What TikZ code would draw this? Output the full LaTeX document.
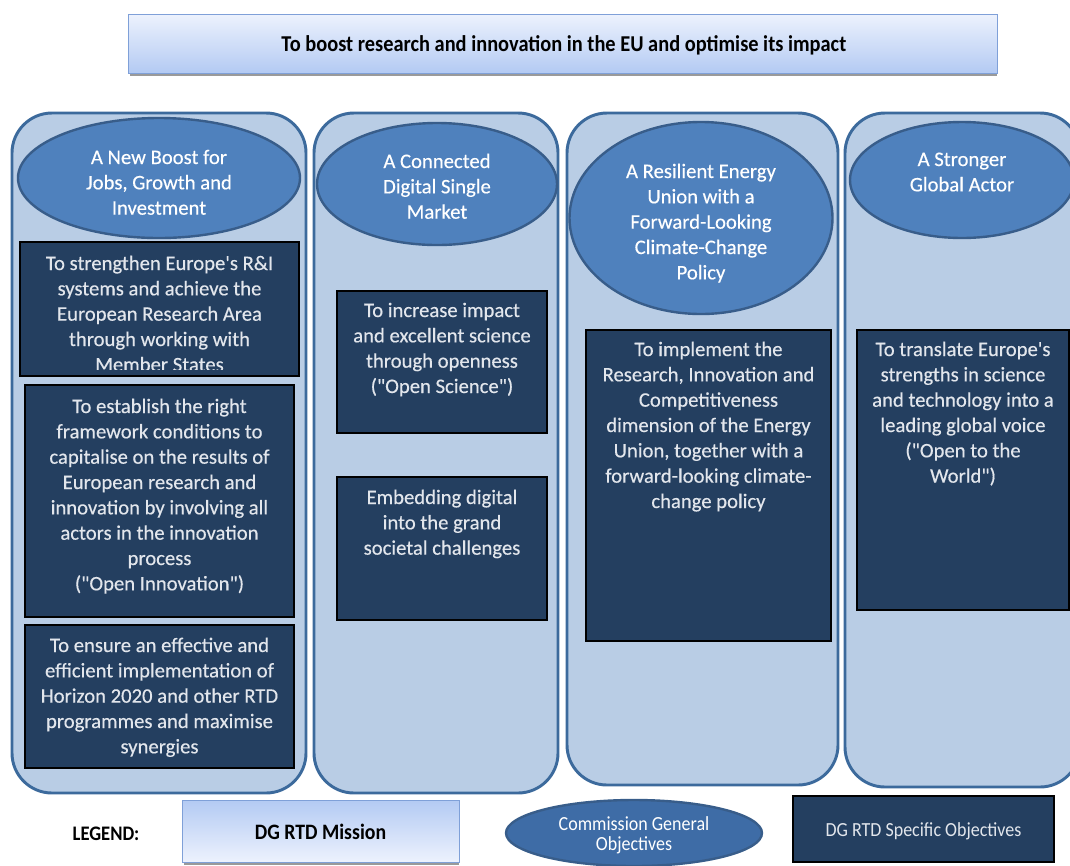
\documentclass[tikz,border=0pt]{standalone}
\usepackage{fontspec}
\defaultfontfeatures[\rmfamily]{}
\setmainfont{Carlito}
\newfontfamily\bodyfont[FakeBold=0.35]{Carlito}
\newfontfamily\legfont[FakeStretch=0.9]{Carlito}
\usetikzlibrary{shapes.geometric,fit}
\definecolor{colfill}{HTML}{B9CDE5}
\definecolor{coldraw}{HTML}{3C6A9C}
\definecolor{ellfill}{HTML}{4F81BD}
\definecolor{elldraw}{HTML}{385D8A}
\definecolor{legellfill}{HTML}{3E6CA6}
\definecolor{objfill}{HTML}{243F60}
\definecolor{objtext}{HTML}{E2E6EC}
\definecolor{mistop}{HTML}{EDF2FD}
\definecolor{misbot}{HTML}{B3CAF3}
\definecolor{misdraw}{HTML}{7FA0D8}
\definecolor{shadowgray}{HTML}{9A9A9A}
\begin{document}
\begin{tikzpicture}[x=0.75pt,y=-0.75pt,
  col/.style={draw=coldraw, line width=2.2pt, fill=colfill, rounded corners=30pt, inner sep=0pt},
  gobj/.style={ellipse, draw=elldraw, line width=1.8pt, fill=ellfill, inner sep=0pt},
  sobj/.style={draw=black, line width=0.9pt, fill=objfill, inner sep=0pt},
  mission/.style={draw=misdraw, line width=0.6pt, inner sep=0pt},
  txt/.style={anchor=north, inner sep=0pt, align=center, font=\fontsize{15.5}{19}\bodyfont},
  gtxt/.style={txt, text=white},
  stxt/.style={txt, text=objtext},
  legtxt/.style={inner sep=0pt, align=center, font=\fontsize{14.5}{15}\legfont},
]
\useasboundingbox (0,0) rectangle (1070,865);

% mission
\fill[shadowgray] (130,72) rectangle (997,76);
\node[mission, top color=mistop, bottom color=misbot, fit={(128,14)(997,73)}] (mis) {};
\node[inner sep=0pt, font=\fontsize{17}{19}\legfont\bfseries] (mist) at ([xshift=1pt,yshift=-1.5pt]mis.center)
  {To boost research and innovation in the EU and optimise its impact};

% columns
\node[col, fit={(12,113)(306,793)}] (c1) {};
\node[col, fit={(314,113)(558,793)}] (c2) {};
\node[col, fit={(567,113)(838,785)}] (c3) {};
\node[col, fit={(845,113)(1080,787)}] (c4) {};

% general objectives
\node[gobj, minimum width=211.5pt, minimum height=90pt] (g1) at (159,178) {};
\node[gobj, minimum width=180pt, minimum height=91.5pt] (g2) at (437,184) {};
\node[gobj, minimum width=197.25pt, minimum height=144pt] (g3) at (701,218) {};
\node[gobj, minimum width=168pt, minimum height=87pt] (g4) at (962,180) {};
\node[gtxt] (g1t) at (159,146) {\strut A New Boost for\\Jobs, Growth and\\Investment};
\node[gtxt] (g2t) at (437,150) {\strut A Connected\\Digital Single\\Market};
\node[gtxt] (g3t) at (701,160) {\strut A Resilient Energy\\Union with a\\Forward-Looking\\Climate-Change\\Policy};
\node[gtxt] (g4t) at (962,148) {\strut A Stronger\\Global Actor};

% specific objectives
\node[sobj, fit={(20,242)(299,376)}] (o1) {};
\node[sobj, fit={(25,385)(294,617)}] (o2) {};
\node[sobj, fit={(25,625)(294,768)}] (o3) {};
\node[sobj, fit={(337,291)(547,433)}] (o4) {};
\node[sobj, fit={(337,477)(547,620)}] (o5) {};
\node[sobj, fit={(586,330)(831,641)}] (o6) {};
\node[sobj, fit={(857,330)(1069,610)}] (o7) {};

\begin{scope}
  \clip (o1.north west) rectangle ([yshift=5pt]o1.south east);
  \node[stxt] (o1t) at (159.5,252) {\strut To strengthen Europe's R\&I\\systems and achieve the\\European Research Area\\through working with\\Member States};
\end{scope}
\node[stxt] (o2t) at (159.5,395) {\strut To establish the right\\framework conditions to\\capitalise on the results of\\European research and\\innovation by involving all\\actors in the innovation\\process\\("Open Innovation")};
\node[stxt] (o3t) at (159.5,634) {\strut To ensure an effective and\\efficient implementation of\\Horizon 2020 and other RTD\\programmes and maximise\\synergies};
\node[stxt] (o4t) at (442,299) {\strut To increase impact\\and excellent science\\through openness\\("Open Science")};
\node[stxt] (o5t) at (442,486) {\strut Embedding digital\\into the grand\\societal challenges};
\node[stxt] (o6t) at (708.5,338) {\strut To implement the\\Research, Innovation and\\Competitiveness\\dimension of the Energy\\Union, together with a\\forward-looking climate-\\change policy};
\node[stxt] (o7t) at (963,338) {\strut To translate Europe's\\strengths in science\\and technology into a\\leading global voice\\("Open to the\\World")};

% legend
\node[legtxt, font=\fontsize{15.5}{16}\legfont\bfseries] (leg) at (106,834) {LEGEND:};
\fill[shadowgray] (184,861) rectangle (459,865);
\node[mission, top color=misbot, bottom color=mistop, fit={(182,800)(459,862)}] (lm) {};
\node[legtxt, font=\fontsize{16.5}{17}\legfont\bfseries] (lmt) at ([yshift=-1pt]lm.center) {DG RTD Mission};
\node[gobj, fill=legellfill, minimum width=192pt, minimum height=49.5pt] (lg) at (634,833) {};
\node[legtxt, text=white, font=\fontsize{15}{15}\legfont] (lgt) at ([yshift=-1.5pt]lg.center) {Commission General\\Objectives};
\node[sobj, fit={(793,796)(1054,862)}] (ls) {};
\node[legtxt, text=objtext, font=\fontsize{15}{15}\legfont] (lst) at ([yshift=-2pt]ls.center) {DG RTD Specific Objectives};
\end{tikzpicture}
\end{document}
